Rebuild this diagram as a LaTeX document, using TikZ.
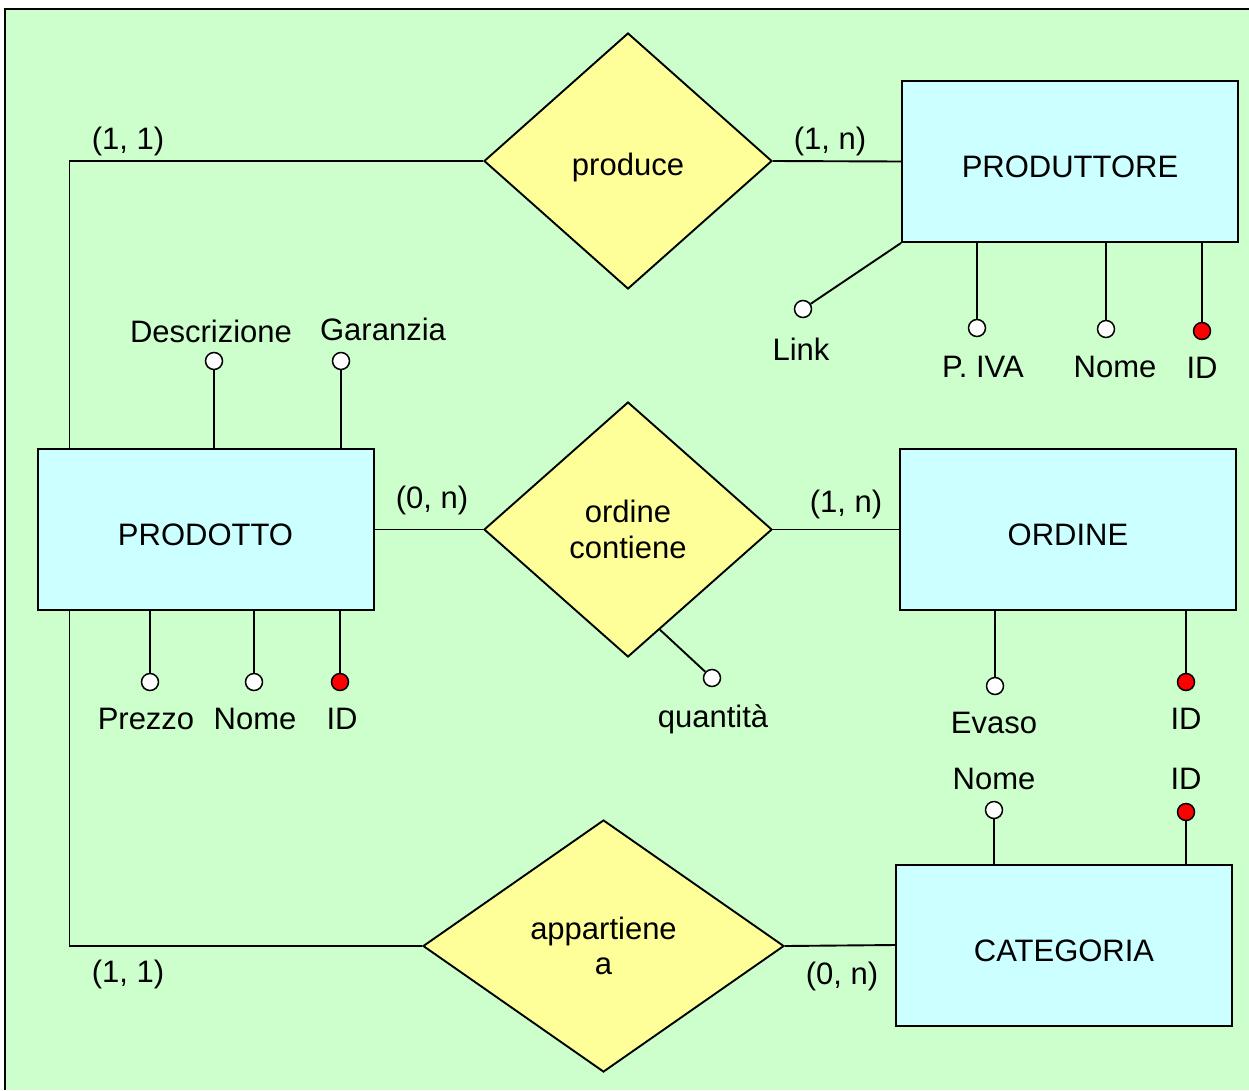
\documentclass[tikz,border=0pt]{standalone}
\usepackage{fontspec}
\setmainfont{Liberation Sans}
\usetikzlibrary{shapes.geometric,calc}

\definecolor{bggreen}{HTML}{CCFFCC}
\definecolor{entcyan}{HTML}{CCFFFF}
\definecolor{relyellow}{HTML}{FFFF99}
\definecolor{keyred}{HTML}{FF0000}

\tikzset{
  every node/.style={font=\fontsize{31}{36}\selectfont},
  conn/.style={line width=1.9pt},
  entity/.style={draw, line width=2pt, fill=entcyan, rectangle, inner sep=0pt,
                 minimum width=336pt, minimum height=161pt,
                 text height=32pt, text depth=0pt},
  relation/.style={draw, line width=1.9pt, fill=relyellow, diamond, inner sep=0pt,
                   align=center},
  attr/.style={draw, line width=1.5pt, fill=white, circle, inner sep=0pt, minimum size=17pt},
  keyattr/.style={attr, fill=keyred},
  lbl/.style={inner sep=0pt, anchor=center}
}

\begin{document}
\begin{tikzpicture}[x=1pt,y=-1pt]
\useasboundingbox (0,0) rectangle (1249,1090);

% sheet
\fill[bggreen] (5,9) rectangle (1249,1090);
\draw[line width=2.4pt] (5,1090) -- (5,9) -- (1249,9);

% entities
\node[entity] (produttore) at (1070,161.5) {PRODUTTORE};
\node[entity] (prodotto)   at (205.5,529.5) {PRODOTTO};
\node[entity] (ordine)     at (1068,529.5) {ORDINE};
\node[entity] (categoria)  at (1064,945) {CATEGORIA};

% relationships
\node[relation, minimum width=288pt, minimum height=256pt,
      text height=35pt, text depth=6.5pt] (produce) at (628,161) {produce};
\node[relation, minimum width=288pt, minimum height=255pt] (contiene) at (628,529.5) {ordine\\contiene};
\node[relation, minimum width=361pt, minimum height=252pt] (appartiene) at (603.5,946) {appartiene\\[-1pt]a};

% relationship connectors
\draw[conn] ([xshift=33pt]prodotto.north west) |- (produce.west);
\draw[conn] (produce.east) -- (produttore.west);
\draw[conn] (prodotto.east) -- (contiene.west);
\draw[conn] (contiene.east) -- (ordine.west);
\draw[conn] ([xshift=33pt]prodotto.south west) |- (appartiene.west);
\draw[conn] (appartiene.east) -- (categoria.west);

% cardinalities
\node[lbl] (c1) at (128,141) {(1, 1)};
\node[lbl] (c2) at (830,141) {(1, n)};
\node[lbl] (c3) at (432,500) {(0, n)};
\node[lbl] (c4) at (846,504) {(1, n)};
\node[lbl] (c5) at (128,974) {(1, 1)};
\node[lbl] (c6) at (842,976) {(0, n)};

% PRODUTTORE attributes
\node[attr] (link) at (803,309) {};
\draw[conn] (produttore.south west) -- (link);
\node[lbl] (linkl) at (801,349) {Link};
\node[attr] (piva) at (977,328) {};
\draw[conn] (piva) -- (piva |- produttore.south);
\node[lbl] (pival) at (983,367) {P. IVA};
\node[attr] (pnome) at (1106,329) {};
\draw[conn] (pnome) -- (pnome |- produttore.south);
\node[lbl] (pnomel) at (1115,367) {Nome};
\node[keyattr] (pid) at (1202,331) {};
\draw[conn] (pid) -- (pid |- produttore.south);
\node[lbl] (pidl) at (1202,368) {ID};

% PRODOTTO attributes
\node[attr] (desc) at (214,361) {};
\draw[conn] (desc) -- (desc |- prodotto.north);
\node[lbl] (descl) at (211,331) {Descrizione};
\node[attr] (gar) at (341,361) {};
\draw[conn] (gar) -- (gar |- prodotto.north);
\node[lbl] (garl) at (383,329) {Garanzia};
\node[attr] (prezzo) at (150,682) {};
\draw[conn] (prezzo) -- (prezzo |- prodotto.south);
\node[lbl] (prezzol) at (146,719) {Prezzo};
\node[attr] (dnome) at (254,682) {};
\draw[conn] (dnome) -- (dnome |- prodotto.south);
\node[lbl] (dnomel) at (255,719) {Nome};
\node[keyattr] (did) at (340,682) {};
\draw[conn] (did) -- (did |- prodotto.south);
\node[lbl] (didl) at (342,719) {ID};

% relationship attribute
\node[attr] (qta) at (712,678) {};
\draw[conn] ($(contiene.south)!0.22!(contiene.east)$) -- (qta);
\node[lbl] (qtal) at (713,719) {quantità};

% ORDINE attributes
\node[attr] (evaso) at (995,686) {};
\draw[conn] (evaso) -- (evaso |- ordine.south);
\node[lbl] (evasol) at (994,723) {Evaso};
\node[keyattr] (oid) at (1186,682) {};
\draw[conn] (oid) -- (oid |- ordine.south);
\node[lbl] (oidl) at (1186,719) {ID};

% CATEGORIA attributes
\node[attr] (cnome) at (994,810) {};
\draw[conn] (cnome) -- (cnome |- categoria.north);
\node[lbl] (cnomel) at (994,779) {Nome};
\node[keyattr] (cid) at (1186,812) {};
\draw[conn] (cid) -- (cid |- categoria.north);
\node[lbl] (cidl) at (1186,779) {ID};
\end{tikzpicture}
\end{document}
